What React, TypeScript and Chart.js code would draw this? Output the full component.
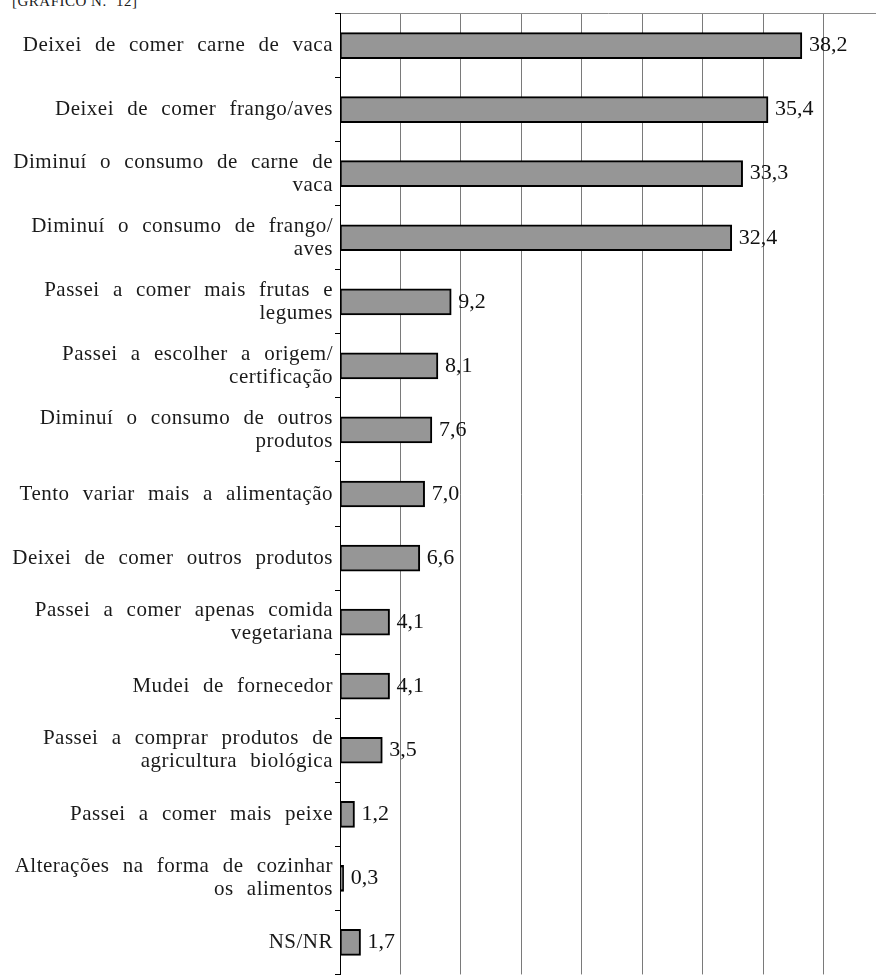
import React, { useEffect, useRef } from "react";
import { Chart, registerables } from "chart.js";

Chart.register(...registerables);

const categories: (string | string[])[] = [
  "Deixei de comer carne de vaca",
  "Deixei de comer frango/aves",
  ["Diminuí o consumo de carne de", "vaca"],
  ["Diminuí o consumo de frango/", "aves"],
  ["Passei a comer mais frutas e", "legumes"],
  ["Passei a escolher a origem/", "certificação"],
  ["Diminuí o consumo de outros", "produtos"],
  "Tento variar mais a alimentação",
  "Deixei de comer outros produtos",
  ["Passei a comer apenas comida", "vegetariana"],
  "Mudei de fornecedor",
  ["Passei a comprar produtos de", "agricultura biológica"],
  "Passei a comer mais peixe",
  ["Alterações na forma de cozinhar", "os alimentos"],
  "NS/NR",
];

const values: number[] = [38.2, 35.4, 33.3, 32.4, 9.2, 8.1, 7.6, 7.0, 6.6, 4.1, 4.1, 3.5, 1.2, 0.3, 1.7];

const gridTicks: number[] = [5, 10, 15, 20, 25, 30, 35, 40];

const title = "[GRÁFICO N.º 12]";

const FONT = "'Liberation Serif', 'Times New Roman', serif";

export default function App() {
  const ref = useRef<HTMLCanvasElement | null>(null);

  useEffect(() => {
    if (!ref.current) return;
    const spacingPlugin = {
      id: "spacing",
      beforeDraw(chart: any) {
        const ctx = chart.ctx as any;
        ctx.letterSpacing = "0.5px";
        ctx.wordSpacing = "7.5px";
      },
      beforeDatasetsDraw(chart: any) {
        const ctx = chart.ctx as any;
        ctx.letterSpacing = "0px";
        ctx.wordSpacing = "0px";
      },
      afterDatasetsDraw(chart: any) {
        const ctx = chart.ctx as any;
        const meta = chart.getDatasetMeta(0);
        ctx.save();
        ctx.letterSpacing = "0px";
        ctx.wordSpacing = "0px";
        ctx.font = `22px ${FONT}`;
        ctx.fillStyle = "#111";
        ctx.textAlign = "left";
        ctx.textBaseline = "middle";
        meta.data.forEach((bar: any, i: number) => {
          const txt = values[i].toFixed(1).replace(".", ",");
          ctx.fillText(txt, bar.x + 7, bar.y);
        });
        ctx.restore();
      },
    };

    const chart = new Chart(ref.current, {
      type: "bar",
      data: {
        labels: categories as any,
        datasets: [
          {
            data: values,
            backgroundColor: "#969696",
            borderColor: "#000",
            borderWidth: 2,
            borderSkipped: false,
            barThickness: 26,
          },
        ],
      },
      options: {
        indexAxis: "y",
        animation: false,
        responsive: true,
        maintainAspectRatio: false,
        layout: { padding: { top: 12, left: 0, right: 0, bottom: 0 } },
        plugins: { legend: { display: false }, tooltip: { enabled: false }, title: { display: false } },
        scales: {
          x: {
            position: "top",
            min: 0,
            max: 44.33,
            afterBuildTicks: (scale: any) => {
              scale.ticks = gridTicks.map((v) => ({ value: v }));
            },
            ticks: { display: false },
            grid: { color: "#7a7a7a", lineWidth: 1, drawTicks: false },
            border: { display: true, color: "#8a8a8a", width: 1 },
          },
          y: {
            position: "left",
            afterFit: (scale: any) => {
              scale.width = 340;
            },
            ticks: {
              color: "#1a1a1a",
              font: { family: FONT, size: 21, lineHeight: 1.1 },
              padding: 2,
              autoSkip: false,
            },
            grid: { drawOnChartArea: false, offset: true, tickLength: 5, color: "#000" },
            border: { display: true, color: "#000", width: 1 },
          },
        },
      },
      plugins: [spacingPlugin],
    });
    return () => chart.destroy();
  }, []);

  return (
    <div style={{ position: "fixed", left: 0, top: 0, width: 876, height: 978, overflow: "hidden", background: "#fff" }}>
      <div
        style={{
          position: "absolute",
          left: 12,
          top: -6,
          fontFamily: FONT,
          fontSize: 15,
          lineHeight: "15px",
          letterSpacing: "0.5px",
          color: "#1a1a1a",
          whiteSpace: "nowrap",
        }}
      >
        {title}
      </div>
      <div style={{ position: "absolute", left: 0, top: 0, width: 876, height: 988 }}>
        <canvas ref={ref} />
      </div>
    </div>
  );
}
